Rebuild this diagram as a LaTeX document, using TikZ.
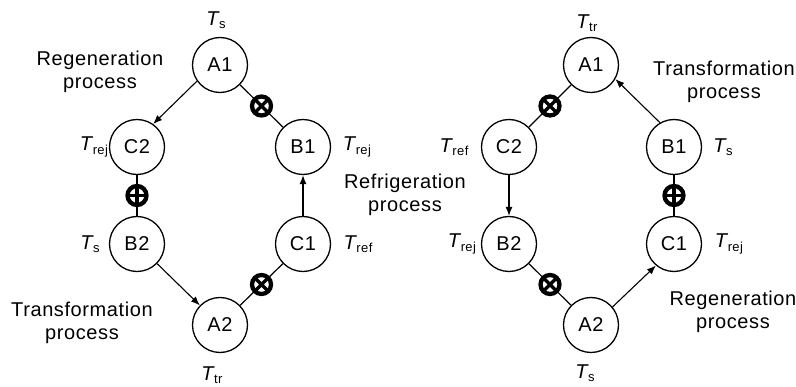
\documentclass[tikz,border=0pt]{standalone}
\usepackage{fontspec}
\setmainfont{Liberation Sans}[LetterSpace=3]
\usetikzlibrary{arrows.meta}
\newcommand\Tlab[1]{\textit{T}\kern-1.2pt\raisebox{-3.5pt}{\fontsize{13}{13}\selectfont #1}}
\tikzset{
  state/.style={circle, draw, line width=1.3pt, minimum size=55pt, inner sep=0pt, font=\fontsize{20}{23}\selectfont},
  lbl/.style={font=\fontsize{20}{23}\selectfont, align=center, inner sep=0pt},
  conn/.style={line width=1.2pt},
  arr/.style={line width=1.1pt, -{Latex[length=9pt,width=7pt]}},
  valve/.style={circle, draw, fill=white, line width=4.3pt, minimum size=19pt, inner sep=0pt,
    path picture={\draw[line width=3.4pt] (path picture bounding box.center) +(#1:12pt) -- +(#1+180:12pt)
      +(#1+90:12pt) -- +(#1+270:12pt);}}
}
\begin{document}
\begin{tikzpicture}[x=1pt,y=1pt]
\useasboundingbox[fill=white] (0,0) rectangle (796,386);
% left diagram
\node[state] (LA1) at (220,321) {A1};
\node[state] (LC2) at (137,239) {C2};
\node[state] (LB1) at (303,239) {B1};
\node[state] (LB2) at (137,142) {B2};
\node[state] (LC1) at (303,142) {C1};
\node[state] (LA2) at (220,61) {A2};
\draw[arr] (LA1.215) -- (LC2.55);
\draw[conn] (LA1) -- node[valve=45]{} (LB1);
\draw[conn] (LC2) -- node[valve=90]{} (LB2);
\draw[arr] (LB2) -- (LA2);
\draw[conn] (LA2) -- node[valve=45]{} (LC1);
\draw[arr] (LC1) -- (LB1);
\node[lbl] (l1) at (216,366) {\Tlab{s}};
\node[lbl] (l2) at (100,314) {Regeneration\\process};
\node[lbl] (l3) at (94,239) {\Tlab{rej}};
\node[lbl] (l4) at (357,239) {\Tlab{rej}};
\node[lbl] (l5) at (405,191) {Refrigeration\\process};
\node[lbl] (l6) at (90,142) {\Tlab{s}};
\node[lbl] (l7) at (358,142) {\Tlab{ref}};
\node[lbl] (l8) at (82,63) {Transformation\\process};
\node[lbl] (l9) at (212,11) {\Tlab{tr}};
% right diagram
\node[state] (RA1) at (591,321) {A1};
\node[state] (RC2) at (509,239) {C2};
\node[state] (RB1) at (674,239) {B1};
\node[state] (RB2) at (509,142) {B2};
\node[state] (RC1) at (674,142) {C1};
\node[state] (RA2) at (591,61) {A2};
\draw[conn] (RA1) -- node[valve=45]{} (RC2);
\draw[arr] (RB1.120) -- (RA1.330);
\draw[arr] (RC2) -- (RB2);
\draw[conn] (RB1) -- node[valve=90]{} (RC1);
\draw[conn] (RB2) -- node[valve=45]{} (RA2);
\draw[arr] (RA2.40) -- (RC1.230);
\node[lbl] (r1) at (587,363) {\Tlab{tr}};
\node[lbl] (r2) at (724,304) {Transformation\\process};
\node[lbl] (r3) at (454,239) {\Tlab{ref}};
\node[lbl] (r4) at (723,239) {\Tlab{s}};
\node[lbl] (r5) at (462,142) {\Tlab{rej}};
\node[lbl] (r6) at (729,142) {\Tlab{rej}};
\node[lbl] (r7) at (733,74) {Regeneration\\process};
\node[lbl] (r8) at (585,13) {\Tlab{s}};
\end{tikzpicture}
\end{document}
